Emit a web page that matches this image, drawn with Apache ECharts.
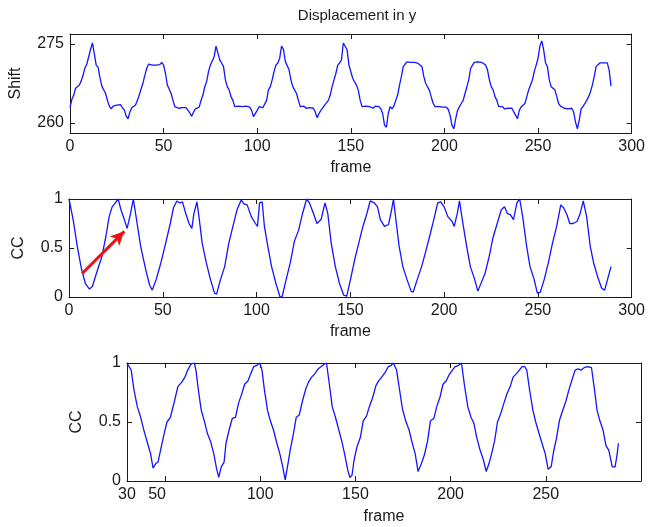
<!DOCTYPE html>
<html>
<head>
<meta charset="utf-8">
<script src="https://cdn.jsdelivr.net/npm/echarts@6/dist/echarts.min.js"></script>
<style>
  html, body { margin: 0; background: #fff; }
  #main { width: 648px; height: 527px; }
</style>
</head>
<body>
<div id="main"></div>
<script>
// shift in y, one value per frame, frame 0..289
var shift = [
  262.9, 264.5, 265.3, 266.6, 266.8, 267.2, 268.0, 269.1, 270.5, 271.2,
  271.0, 274.0, 275.2, 275.0, 271.0, 270.6, 268.6, 267.0, 266.8, 265.6,
  264.3, 263.2, 262.7, 263.2, 263.0, 263.4, 263.1, 263.5, 262.9, 262.5,
  261.3, 260.8, 262.1, 262.9, 263.0, 263.4, 264.3, 265.3, 266.5, 267.6,
  269.1, 270.4, 271.2, 271.4, 271.0, 271.0, 271.0, 271.0, 271.1, 271.5,
  271.0, 269.4, 267.2, 266.9, 265.6, 264.3, 263.1, 263.0, 262.8, 263.1,
  262.9, 263.2, 262.9, 262.8, 261.9, 261.3, 262.1, 262.7, 262.8, 263.0,
  264.3, 265.3, 266.9, 267.9, 269.8, 271.0, 270.7, 272.6, 274.6, 274.3,
  272.0, 271.4, 270.7, 268.2, 266.9, 266.3, 265.0, 264.3, 263.1, 263.0,
  263.2, 262.9, 263.1, 262.8, 263.2, 262.9, 263.0, 262.4, 261.2, 261.5,
  262.4, 263.1, 263.2, 262.9, 262.7, 264.3, 266.3, 266.9, 268.2, 269.8,
  271.0, 271.4, 272.3, 274.6, 274.0, 271.7, 271.4, 270.1, 268.2, 266.9,
  266.6, 265.6, 264.3, 263.1, 262.9, 263.2, 262.8, 263.1, 262.9, 263.2,
  262.8, 262.1, 261.0, 261.8, 262.4, 262.7, 263.4, 263.2, 264.3, 265.3,
  266.9, 268.2, 269.4, 271.0, 271.4, 272.0, 275.2, 275.3, 273.9, 271.0,
  271.0, 268.5, 267.8, 267.2, 266.2, 264.3, 263.1, 263.0, 263.2, 262.9,
  263.1, 263.0, 262.8, 263.2, 262.9, 263.1, 262.7, 261.8, 259.6, 259.2,
  261.8, 263.1, 262.7, 263.2, 264.3, 265.3, 267.2, 268.8, 270.7, 271.2,
  271.6, 271.6, 271.5, 271.6, 271.5, 271.4, 271.3, 271.2, 270.7, 268.8,
  267.5, 267.2, 266.2, 264.9, 263.7, 263.1, 262.9, 263.1, 262.8, 263.0,
  262.7, 263.0, 262.6, 261.5, 259.6, 258.9, 260.8, 262.4, 263.1, 263.7,
  264.3, 265.6, 266.9, 268.2, 270.4, 271.0, 271.5, 271.6, 271.6, 271.6,
  271.5, 271.4, 271.0, 270.1, 268.2, 266.9, 266.3, 265.0, 264.3, 263.1,
  262.9, 263.1, 262.7, 263.0, 262.8, 263.1, 262.8, 262.5, 261.5, 260.8,
  262.4, 263.1, 263.2, 263.7, 265.0, 266.3, 267.2, 268.2, 269.8, 271.0,
  272.3, 274.6, 275.6, 273.9, 271.4, 270.7, 268.2, 266.9, 267.0, 266.3,
  265.0, 263.7, 263.2, 263.1, 262.8, 263.0, 262.7, 263.0, 262.8, 262.1,
  260.2, 258.9, 260.5, 262.7, 263.1, 263.7, 264.3, 265.0, 265.9, 267.2,
  268.8, 270.7, 271.0, 271.4, 271.4, 271.4, 271.3, 271.4, 270.0, 267.0
];

// correlation coefficient, frames 0..289
var ccFrames = [
  0, 2.2, 4.4, 6.6, 8.7, 10.9, 12.5, 14.6, 17.5, 19.7,
  21.4, 23, 24.3, 26.2, 27.7, 29.5, 31, 32.8, 34.3, 36,
  38.2, 40.9, 43, 44.4, 46.5, 49, 51.3, 54, 55.7, 57.5,
  59, 60.5, 62.3, 64, 65.5, 66.6, 68.2, 69.3, 71, 73.2,
  75.4, 77.6, 78.7, 80.8, 83, 85.2, 87.4, 89.6, 91.8, 93.3,
  95, 97.2, 99.4, 100.5, 101.6, 103, 104.2, 106, 108, 110.3,
  112.5, 113.6, 115.8, 118, 120.2, 122.4, 124.5, 126.7, 128.2, 130,
  132.2, 134.4, 136.5, 138, 139.8, 142, 144.2, 146.4, 148.1, 150.1,
  152.3, 154.5, 156.7, 158.8, 160.6, 162.8, 164.5, 166, 168.2, 170.4,
  172, 173, 174.1, 176, 178, 180.2, 182.4, 183.5, 185.7, 188,
  190, 192.3, 194.5, 196.6, 198.2, 200, 202, 204.3, 205.4, 207,
  208.2, 209.7, 212, 214, 216.3, 218, 219, 221.8, 224, 226,
  228.3, 230.5, 232.2, 233.8, 235.3, 237, 238.8, 240.3, 241.9, 244,
  245.8, 248, 249.7, 251.3, 253.4, 255.6, 257.8, 260, 262.2, 263.7,
  265.5, 267, 268.8, 270.9, 272.5, 274.2, 276, 277.9, 279.7, 281.8,
  284, 285.6, 287.3, 289
];
var ccValues = [
  1.00, 0.79, 0.52, 0.29, 0.14, 0.08, 0.11, 0.24, 0.41, 0.62,
  0.82, 0.92, 0.95, 1.00, 0.89, 0.79, 0.70, 0.85, 1.00, 0.79,
  0.52, 0.28, 0.12, 0.07, 0.18, 0.35, 0.53, 0.75, 0.91, 0.98,
  0.96, 0.97, 0.85, 0.75, 0.70, 0.85, 0.97, 0.82, 0.55, 0.35,
  0.18, 0.04, 0.03, 0.18, 0.31, 0.55, 0.72, 0.89, 0.99, 0.95,
  0.94, 0.82, 0.75, 0.72, 0.96, 0.97, 0.72, 0.52, 0.31, 0.14,
  0.00, 0.00, 0.18, 0.35, 0.57, 0.68, 0.85, 1.00, 0.96, 0.87,
  0.75, 0.79, 0.96, 0.85, 0.55, 0.31, 0.14, 0.02, 0.01, 0.18,
  0.38, 0.55, 0.72, 0.85, 0.98, 0.96, 0.92, 0.79, 0.72, 0.74,
  0.89, 1.00, 0.82, 0.52, 0.31, 0.18, 0.06, 0.05, 0.18, 0.31,
  0.45, 0.62, 0.79, 0.96, 0.97, 0.92, 0.82, 0.77, 0.72, 0.85,
  0.98, 0.79, 0.52, 0.31, 0.18, 0.06, 0.07, 0.24, 0.41, 0.60,
  0.75, 0.89, 0.92, 0.85, 0.84, 0.79, 0.96, 1.00, 0.82, 0.52,
  0.31, 0.18, 0.04, 0.05, 0.18, 0.35, 0.55, 0.72, 0.94, 0.91,
  0.84, 0.75, 0.75, 0.77, 0.85, 0.98, 0.82, 0.52, 0.35, 0.21,
  0.09, 0.07, 0.19, 0.31
];

// correlation coefficient from frame 30 on
var cc2Frames = [
  30, 32.2, 33.7, 35.4, 37.2, 38.7, 40.8, 42.4, 43.7, 45.2,
  46.3, 48, 49.5, 51, 52.8, 55, 56.7, 58.9, 60.4, 61.9,
  63.6, 65.4, 66.2, 67.5, 69, 70.6, 72.3, 74, 75.6, 77.1,
  78.2, 79.5, 81, 82, 83.6, 85.3, 87, 88.6, 90.1, 91.8,
  93.6, 95, 96.6, 98.3, 99.8, 100.9, 102.2, 103.8, 105.3, 107,
  108.7, 110.3, 111.8, 113.1, 114.6, 115.7, 117.4, 118.9, 120.5, 122.2,
  123.9, 125.4, 127, 128.7, 130.4, 132, 133.5, 134.8, 136.3, 137.8,
  139.5, 141.3, 142.8, 144.3, 146, 147.1, 148.2, 149.3, 150.8, 152.6,
  154.1, 155.8, 157.3, 159.1, 160.8, 162.3, 163.8, 165.6, 167.3, 168.8,
  169.9, 171.6, 173.2, 174.7, 176.4, 178.2, 179.7, 181.4, 182.9, 184.7,
  186.2, 187.9, 189.4, 191.2, 192.7, 194.4, 196, 197.7, 199.2, 200.9,
  202.4, 204.2, 205.7, 207.2, 209, 210.7, 212.2, 213.7, 215.5, 217.2,
  218.7, 220.2, 221.5, 223.1, 224.6, 226.3, 228, 229.6, 231.3, 232.8,
  234.6, 236.1, 237.6, 238.9, 240, 241.5, 243.2, 244.7, 246.5, 248,
  249.7, 251.2, 252.8, 254.1, 255.7, 257.1, 258.9, 260.6, 262.1, 263.6,
  265.4, 266.9, 268.6, 270.1, 271.9, 274, 275.6, 276.9, 278.4, 280.1,
  281.6, 283.1, 284.9, 286.4, 287.5, 288.1
];
var cc2Values = [
  1.00, 0.94, 0.77, 0.63, 0.54, 0.44, 0.32, 0.23, 0.11, 0.15,
  0.16, 0.29, 0.40, 0.50, 0.54, 0.68, 0.80, 0.84, 0.88, 0.94,
  0.99, 1.00, 0.94, 0.77, 0.60, 0.51, 0.40, 0.33, 0.23, 0.10,
  0.03, 0.12, 0.16, 0.32, 0.43, 0.53, 0.54, 0.66, 0.73, 0.82,
  0.85, 0.91, 0.97, 0.98, 1.00, 0.94, 0.77, 0.60, 0.51, 0.43,
  0.32, 0.23, 0.12, 0.01, 0.15, 0.26, 0.40, 0.54, 0.56, 0.68,
  0.78, 0.84, 0.88, 0.91, 0.95, 0.97, 0.99, 1.00, 0.82, 0.63,
  0.54, 0.43, 0.34, 0.23, 0.09, 0.03, 0.05, 0.18, 0.29, 0.37,
  0.51, 0.55, 0.63, 0.71, 0.81, 0.85, 0.88, 0.92, 0.97, 0.98,
  1.00, 0.94, 0.77, 0.61, 0.51, 0.43, 0.33, 0.23, 0.08, 0.15,
  0.22, 0.34, 0.51, 0.53, 0.63, 0.71, 0.82, 0.85, 0.90, 0.94,
  0.97, 0.98, 1.00, 0.82, 0.63, 0.54, 0.49, 0.37, 0.26, 0.18,
  0.08, 0.15, 0.23, 0.34, 0.50, 0.57, 0.66, 0.74, 0.80, 0.88,
  0.91, 0.94, 0.97, 0.97, 0.94, 0.77, 0.60, 0.50, 0.40, 0.32,
  0.23, 0.10, 0.12, 0.25, 0.37, 0.51, 0.60, 0.68, 0.77, 0.85,
  0.94, 0.95, 0.94, 0.96, 0.97, 0.96, 0.77, 0.60, 0.51, 0.43,
  0.30, 0.26, 0.12, 0.12, 0.23, 0.32
];

// red arrow in the middle panel: [frame, cc]
var arrowStart = [7, 0.24];
var arrowEnd = [29.5, 0.67];

var frameTicks = [0, 50, 100, 150, 200, 250, 300];
var frameTicks2 = [30, 50, 100, 150, 200, 250];
var shiftTicks = [260, 275];
var ccTicks = [0, 0.5, 1];

var chartDom = document.getElementById('main');
var myChart = echarts.init(chartDom);

var FONT = '"Liberation Sans", Arial, sans-serif';
var INK = '#1a1a1a';

function pairs(xs, ys) {
  return xs.map(function (x, i) { return [x, ys[i]]; });
}

function axis(grid, min, max, ticks, pos, withLabel, name, gap) {
  var a = {
    type: 'value',
    gridIndex: grid,
    position: pos,
    min: min,
    max: max,
    splitLine: { show: false },
    axisLine: { show: true, onZero: false, lineStyle: { color: INK, width: 1 } },
    axisTick: { show: true, inside: true, length: 5, customValues: ticks, lineStyle: { color: INK } },
    axisLabel: {
      show: withLabel, customValues: ticks, margin: 6,
      color: INK, fontSize: 16, fontFamily: FONT
    }
  };
  if (name) {
    a.name = name;
    a.nameLocation = 'middle';
    a.nameGap = gap;
    a.nameTextStyle = { color: INK, fontSize: 16, fontFamily: FONT };
  }
  return a;
}

// bottom panel: "50" sits a little left of its tick so it clears "30"
var bottomX = axis(2, 30, 300, frameTicks2, 'bottom', true, 'frame', 28);
bottomX.axisLabel.formatter = function (v) {
  return v === 50 ? '{l|50}' : String(v);
};
bottomX.axisLabel.rich = { l: { padding: [0, 16, 0, 0], fontSize: 16, fontFamily: FONT, color: INK } };

var xAxes = [
  axis(0, 0, 300, frameTicks, 'bottom', true, 'frame', 27),
  axis(0, 0, 300, frameTicks, 'top', false),
  axis(1, 0, 300, frameTicks, 'bottom', true, 'frame', 27),
  axis(1, 0, 300, frameTicks, 'top', false),
  bottomX,
  axis(2, 30, 300, frameTicks2, 'top', false)
];
var yAxes = [
  axis(0, 258.1, 276.9, shiftTicks, 'left', true, 'Shift', 46),
  axis(0, 258.1, 276.9, shiftTicks, 'right', false),
  axis(1, 0, 1, ccTicks, 'left', true, 'CC', 42),
  axis(1, 0, 1, ccTicks, 'right', false),
  axis(2, 0, 1, ccTicks, 'left', true, 'CC', 42),
  axis(2, 0, 1, ccTicks, 'right', false)
];

var lineStyle = { color: '#1414ff', width: 1.3 };

var option = {
  backgroundColor: '#fff',
  animation: false,
  title: {
    text: 'Displacement in y',
    left: 352,
    textAlign: 'center',
    top: 3,
    textStyle: { color: INK, fontSize: 15, fontWeight: 'normal', fontFamily: FONT }
  },
  grid: [
    { left: 69, right: 12, top: 34, height: 99 },
    { left: 69, right: 12, top: 199, height: 98 },
    { left: 127, right: 7, top: 363, height: 118 }
  ],
  xAxis: xAxes,
  yAxis: yAxes,
  series: [
    {
      type: 'line',
      xAxisIndex: 0,
      yAxisIndex: 0,
      showSymbol: false,
      lineStyle: lineStyle,
      data: shift.map(function (v, i) { return [i, v]; })
    },
    {
      type: 'line',
      xAxisIndex: 2,
      yAxisIndex: 2,
      showSymbol: false,
      lineStyle: lineStyle,
      data: pairs(ccFrames, ccValues),
      markLine: {
        silent: true,
        symbol: ['none', 'arrow'],
        symbolSize: [10, 14],
        label: { show: false },
        lineStyle: { color: '#f01010', width: 3, type: 'solid' },
        data: [[{ coord: arrowStart }, { coord: arrowEnd }]]
      }
    },
    {
      type: 'line',
      xAxisIndex: 4,
      yAxisIndex: 4,
      showSymbol: false,
      lineStyle: lineStyle,
      data: pairs(cc2Frames, cc2Values)
    }
  ]
};

option && myChart.setOption(option);
</script>
</body>
</html>
